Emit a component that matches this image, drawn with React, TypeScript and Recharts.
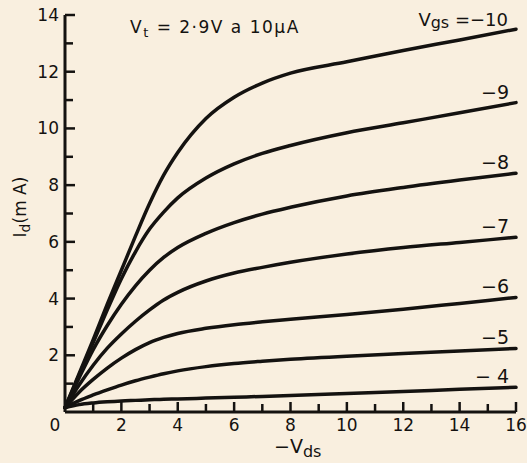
import { LineChart, Line, XAxis, YAxis, Customized } from "recharts";

// -Vds (V) sample points shared by all curves
const vds = [0, 0.5, 1, 1.5, 2, 2.5, 3, 3.5, 4, 5, 6, 7, 8, 10, 12, 14, 16];

// Id (mA) for each gate voltage
const idVgs10 = [0.15, 1.35, 2.55, 3.8, 5.0, 6.2, 7.35, 8.35, 9.15, 10.35, 11.1, 11.6, 11.95, 12.35, 12.75, 13.12, 13.5];
const idVgs9 = [0.15, 1.3, 2.45, 3.6, 4.7, 5.65, 6.45, 7.05, 7.55, 8.25, 8.75, 9.12, 9.4, 9.85, 10.2, 10.55, 10.91];
const idVgs8 = [0.15, 1.2, 2.2, 3.05, 3.8, 4.45, 5.0, 5.45, 5.8, 6.3, 6.68, 6.98, 7.22, 7.62, 7.92, 8.18, 8.42];
const idVgs7 = [0.15, 0.95, 1.65, 2.25, 2.75, 3.2, 3.6, 3.95, 4.22, 4.62, 4.9, 5.1, 5.28, 5.57, 5.8, 5.98, 6.16];
const idVgs6 = [0.15, 0.7, 1.15, 1.55, 1.9, 2.2, 2.45, 2.63, 2.77, 2.95, 3.08, 3.18, 3.27, 3.44, 3.62, 3.83, 4.04];
const idVgs5 = [0.15, 0.4, 0.6, 0.78, 0.95, 1.1, 1.23, 1.35, 1.45, 1.6, 1.71, 1.79, 1.86, 1.97, 2.06, 2.15, 2.24];
const idVgs4 = [0.15, 0.26, 0.32, 0.36, 0.39, 0.41, 0.43, 0.45, 0.46, 0.49, 0.52, 0.55, 0.58, 0.65, 0.72, 0.8, 0.87];

const curveKeys = ["v10", "v9", "v8", "v7", "v6", "v5", "v4"];
const curveLabels = ["−10", "−9", "−8", "−7", "−6", "−5", "− 4"];
const curveValues = [idVgs10, idVgs9, idVgs8, idVgs7, idVgs6, idVgs5, idVgs4];

const xTicks = [0, 1, 2, 3, 4, 5, 6, 7, 8, 9, 10, 11, 12, 13, 14, 15, 16];
const yTicks = [0, 1, 2, 3, 4, 5, 6, 7, 8, 9, 10, 11, 12, 13, 14];

const data = vds.map((v, i) => {
  const row: Record<string, number> = { vds: v };
  curveKeys.forEach((k, j) => (row[k] = curveValues[j][i]));
  return row;
});

const INK = "#141210";
const PAPER = "#f9efdf";
const FONT = "'DejaVu Sans', sans-serif";
const TICK_GAP = 6;

function XTick({ x, y, payload }: any) {
  const v = payload.value;
  const major = v % 2 === 0;
  const axisY = y - TICK_GAP;
  return (
    <g>
      {v !== 0 && (
        <line x1={x} x2={x} y1={axisY} y2={axisY - (major ? 10 : 8)} stroke={INK} strokeWidth={2.5} />
      )}
      {major && (
        <text x={v === 0 ? x - 10 : x} y={axisY + 13} textAnchor="middle" dominantBaseline="central"
          fontFamily={FONT} fontSize={17} fill={INK}>
          {v}
        </text>
      )}
    </g>
  );
}

function YTick({ x, y, payload }: any) {
  const v = payload.value;
  const major = v % 2 === 0;
  const axisX = x + TICK_GAP;
  if (v === 0) return null;
  return (
    <g>
      <line x1={axisX} x2={axisX + (major ? 10 : 8)} y1={y} y2={y} stroke={INK} strokeWidth={2.5} />
      {major && (
        <text x={x} y={y} textAnchor="end" dominantBaseline="central"
          fontFamily={FONT} fontSize={17} fill={INK}>
          {v}
        </text>
      )}
    </g>
  );
}

function endLabel(text: string, first: boolean) {
  return (props: any) => {
    const { x, y, index } = props;
    if (index !== vds.length - 1) return null;
    if (first) {
      return (
        <text x={x - 8} y={y - 3} textAnchor="end" fontFamily={FONT} fontSize={18} fill={INK}>
          V<tspan fontSize={16} dy={2}>gs</tspan>
          <tspan dy={-2}> =−10</tspan>
        </text>
      );
    }
    return (
      <text x={x - 7} y={y - 4} textAnchor="end" fontFamily={FONT} fontSize={19} fill={INK}>
        {text}
      </text>
    );
  };
}

function Annotations() {
  return (
    <g fontFamily={FONT} fill={INK}>
      <text x={130} y={33} fontSize={17} letterSpacing={1.5}>
        V<tspan fontSize={13} dy={4}>t</tspan>
        <tspan dy={-4}> = 2·9V a  10μA</tspan>
      </text>
      <text x={26} y={207} fontSize={17} textAnchor="middle" transform="rotate(-90 26 207)">
        I<tspan fontSize={14} dy={4}>d</tspan>
        <tspan dy={-4}>(m A)</tspan>
      </text>
      <text x={274} y={453} fontSize={19}>
        −V<tspan fontSize={16} dy={4}>ds</tspan>
      </text>
    </g>
  );
}

export default function App() {
  return (
    <div style={{ position: "absolute", left: 0, top: 0, width: 527, height: 463, background: PAPER }}>
      <LineChart width={527} height={463} data={data} margin={{ top: 15, right: 11, left: 0, bottom: 0 }}>
        <XAxis
          dataKey="vds"
          type="number"
          domain={[0, 16]}
          ticks={xTicks}
          interval={0}
          height={51}
          tickSize={0}
          tickMargin={TICK_GAP}
          tick={<XTick />}
          axisLine={{ stroke: INK, strokeWidth: 3 }}
          tickLine={false}
        />
        <YAxis
          type="number"
          domain={[0, 14]}
          ticks={yTicks}
          interval={0}
          width={65}
          tickSize={0}
          tickMargin={TICK_GAP}
          tick={<YTick />}
          axisLine={{ stroke: INK, strokeWidth: 3 }}
          tickLine={false}
        />
        {curveKeys.map((k, j) => (
          <Line
            key={k}
            dataKey={k}
            type="monotone"
            stroke={INK}
            strokeWidth={3.5}
            strokeLinecap="round"
            dot={false}
            isAnimationActive={false}
            label={endLabel(curveLabels[j], j === 0)}
          />
        ))}
        <Customized component={<Annotations />} />
      </LineChart>
    </div>
  );
}
